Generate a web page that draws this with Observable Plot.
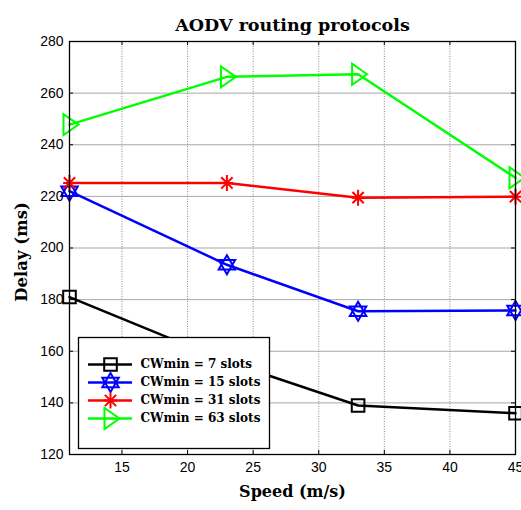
<!DOCTYPE html>
<html>
<head>
<meta charset="utf-8">
<script src="https://cdn.jsdelivr.net/npm/d3@7"></script>
<script src="https://cdn.jsdelivr.net/npm/@observablehq/plot@0.6"></script>
<style>
  html, body { margin: 0; padding: 0; background: #fff; }
  #wrap { position: relative; width: 521px; height: 510px; }
  #legend { position: absolute; left: 78px; top: 337px; }
</style>
</head>
<body>
<div id="wrap"><div id="chart"></div><div id="legend"></div></div>
<script>
// ---- data ----
const speeds = [11, 23, 33, 45];
const seriesNames = ["CWmin = 7 slots", "CWmin = 15 slots", "CWmin = 31 slots", "CWmin = 63 slots"];
const cw7  = [181, 156, 139, 136];
const cw15 = [222, 193.5, 175.5, 175.8];
const cw31 = [225.2, 225.2, 219.5, 219.9];
const cw63 = [247.8, 266.3, 267.3, 227.2];
const xTicks = [15, 20, 25, 30, 35, 40, 45];
const yTicks = [120, 140, 160, 180, 200, 220, 240, 260, 280];
const title = "AODV routing protocols";
const xLabel = "Speed (m/s)";
const yLabel = "Delay (ms)";

// ---- styles ----
const colors = ["#000000", "#0000ff", "#ff0000", "#00ff00"];
const serif = "'DejaVu Serif', 'Liberation Serif', serif";
const sans = "'Liberation Sans', Arial, sans-serif";

// custom MATLAB-like markers
const squareSym = {draw(c) { const r = 6.3; c.moveTo(-r, -r); c.lineTo(r, -r); c.lineTo(r, r); c.lineTo(-r, r); c.closePath(); }};
const hexagramSym = {draw(c) {
  const R = 9.5, a = R * Math.cos(Math.PI / 6);
  c.moveTo(0, -R); c.lineTo(a, R / 2); c.lineTo(-a, R / 2); c.closePath();
  c.moveTo(0, R); c.lineTo(a, -R / 2); c.lineTo(-a, -R / 2); c.closePath();
}};
const asteriskSym = {draw(c) {
  const R = 8, d = R * Math.SQRT1_2;
  c.moveTo(0, -R); c.lineTo(0, R);
  c.moveTo(-R * 0.8, 0); c.lineTo(R * 0.8, 0);
  c.moveTo(-d, -d); c.lineTo(d, d);
  c.moveTo(-d, d); c.lineTo(d, -d);
}};
const triRightSym = {draw(c) { c.moveTo(9, 0); c.lineTo(-6, -10.5); c.lineTo(-6, 10.5); c.closePath(); }};
const symbols = [squareSym, hexagramSym, asteriskSym, triRightSym];

const allValues = [cw7, cw15, cw31, cw63];
const rows = [];
allValues.forEach((vals, i) => vals.forEach((v, j) => rows.push({series: seriesNames[i], speed: speeds[j], delay: v})));

const W = 521, H = 510, mL = 69, mR = 6, mT = 41, mB = 56;
const frameH = H - mT - mB, frameW = W - mL - mR;

const marks = [
  Plot.gridY(yTicks.slice(1, -1), {stroke: "#a8a8a8", strokeOpacity: 1, strokeWidth: 1}),
  Plot.gridX(xTicks.slice(0, -1), {stroke: "#888", strokeOpacity: 1, strokeWidth: 1, strokeDasharray: "1,1.5"}),
  // inner ticks
  Plot.tickX(xTicks, {x: d => d, insetTop: frameH - 4, stroke: "black"}),
  Plot.tickX(xTicks, {x: d => d, insetBottom: frameH - 4, stroke: "black"}),
  Plot.tickY(yTicks, {y: d => d, insetRight: frameW - 4, stroke: "black"}),
  Plot.tickY(yTicks, {y: d => d, insetLeft: frameW - 4, stroke: "black"}),
];
seriesNames.forEach((name, i) => {
  const d = rows.filter(r => r.series === name);
  marks.push(Plot.line(d, {x: "speed", y: "delay", stroke: colors[i], strokeWidth: 2.5}));
});
seriesNames.forEach((name, i) => {
  const d = rows.filter(r => r.series === name);
  marks.push(Plot.dot(d, {x: "speed", y: "delay", symbol: symbols[i], stroke: colors[i], fill: "none", strokeWidth: 2}));
});
marks.push(
  Plot.frame({stroke: "black", strokeWidth: 1.3}),
  Plot.axisX(xTicks, {tickSize: 0, tickPadding: 8, fontSize: 14, fontFamily: sans, fill: "black", label: null}),
  Plot.axisY(yTicks, {tickSize: 0, tickPadding: 6, fontSize: 14, fontFamily: sans, fill: "black", label: null}),
  Plot.text([title], {frameAnchor: "top", dy: -23, fontSize: 17.5, fontWeight: "bold", fontFamily: serif, fill: "black"}),
  Plot.text([xLabel], {frameAnchor: "bottom", dy: 42, fontSize: 16, fontWeight: "bold", fontFamily: serif, fill: "black"}),
  Plot.text([yLabel], {frameAnchor: "left", textAnchor: "middle", dx: -48, dy: 4, rotate: -90, fontSize: 16.5, fontWeight: "bold", fontFamily: serif, fill: "black"})
);

const chart = Plot.plot({
  width: W, height: H,
  marginLeft: mL, marginRight: mR, marginTop: mT, marginBottom: mB,
  x: {domain: [11, 45]},
  y: {domain: [120, 280]},
  style: {background: "white", color: "black", overflow: "visible"},
  marks
});
document.getElementById("chart").appendChild(chart);

// ---- legend (separate small Plot) ----
const legendRows = seriesNames.map((name, i) => ({name, i}));
const legendMarks = [Plot.frame({stroke: "black", strokeWidth: 1.3, fill: "white"})];
legendRows.forEach(r => {
  legendMarks.push(Plot.ruleY([r], {y: "name", x1: 10, x2: 54, stroke: colors[r.i], strokeWidth: 2.5}));
  legendMarks.push(Plot.dot([r], {y: "name", x: 32, symbol: symbols[r.i], stroke: colors[r.i], fill: "none", strokeWidth: 2}));
});
legendMarks.push(Plot.text(legendRows, {y: "name", x: 62, text: "name", textAnchor: "start", fontSize: 12, fontWeight: "bold", fontFamily: serif, fill: "black"}));
const legend = Plot.plot({
  width: 191, height: 111,
  margin: 0,
  x: {type: "identity", axis: null},
  y: {type: "point", domain: seriesNames, range: [16, 91], axis: null},
  style: {background: "transparent", overflow: "visible"},
  marks: legendMarks
});
document.getElementById("legend").appendChild(legend);
</script>
</body>
</html>
